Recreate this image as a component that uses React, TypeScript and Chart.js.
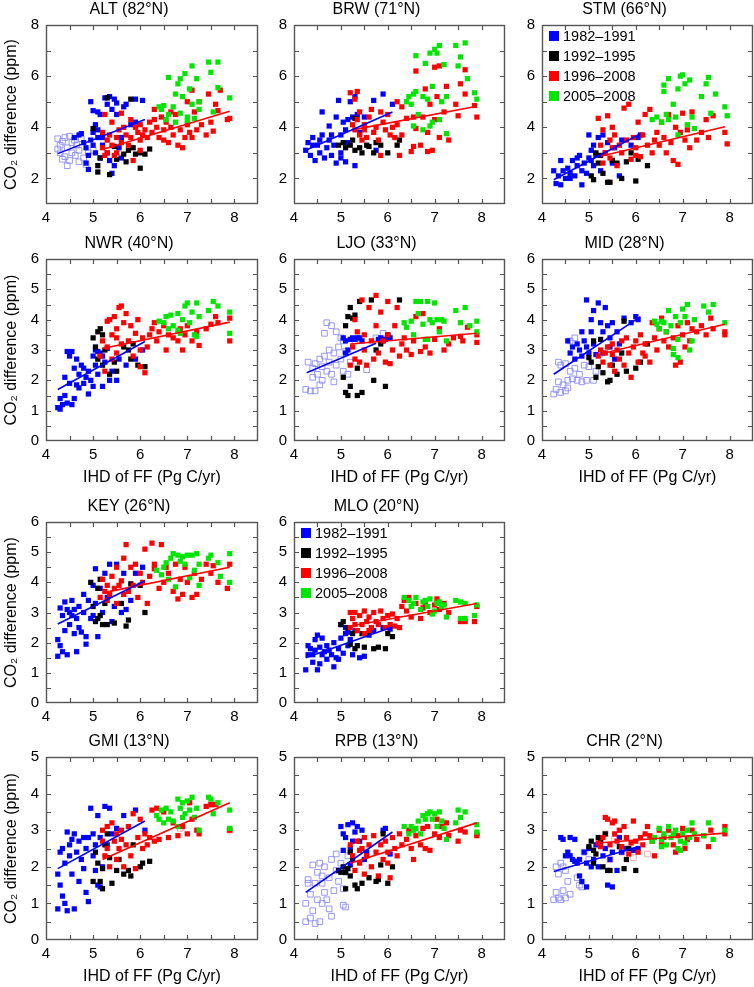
import React, { useEffect, useRef } from 'react';
import { Chart, registerables } from 'chart.js';

Chart.register(...registerables);

const FONT = '"Liberation Sans", Arial, Helvetica, sans-serif';
Chart.defaults.font.family = FONT;
Chart.defaults.color = '#000';

type Pt = [number, number];

// axes
const X_TICKS = [4, 5, 6, 7, 8];
const X_MARKS = [4.5, 5, 5.5, 6, 6.5, 7, 7.5, 8];
const Y_TICKS_HIGH = [2, 4, 6, 8];
const Y_MARKS_HIGH = [2, 3, 4, 5, 6, 7];
const Y_TICKS_MID = [0, 1, 2, 3, 4, 5, 6];
const Y_MARKS_MID = [0.5, 1, 1.5, 2, 2.5, 3, 3.5, 4, 4.5, 5, 5.5];
const Y_TICKS_LOW = [0, 1, 2, 3, 4, 5];
const Y_MARKS_LOW = [0.5, 1, 1.5, 2, 2.5, 3, 3.5, 4, 4.5];

const PERIODS = ['1982–1991', '1992–1995', '1996–2008', '2005–2008'];

const BLUE = '#0000ff';
const BLACK = '#000000';
const RED = '#ff0000';
const GREEN = '#00e600';
const OPEN_BLUE = '#8c8cf2';
const OPEN_RED = '#f2a0a0';
const LEGEND_COLORS = [BLUE, BLACK, RED, GREEN];

// ---- ALT (82°N)
const ALT_OPEN: Pt[] = [[4.25,3.55],[4.3,3.3],[4.35,3.45],[4.4,3.6],[4.45,3.2],[4.5,3.65],[4.55,3.0],[4.6,3.5],[4.65,3.3],[4.3,3.0],[4.4,2.85],[4.5,2.7],[4.55,3.4],[4.7,3.1],[4.75,3.55],[4.8,2.8],[4.85,2.55],[4.45,2.5],[4.35,2.75],[4.62,2.9],[4.9,3.0],[5.0,3.1],[4.25,3.15],[4.7,2.65]];
const ALT_BLUE: Pt[] = [[4.6,3.6],[4.7,3.7],[4.75,3.75],[4.8,3.4],[4.85,3.2],[4.9,2.9],[4.95,3.5],[5.0,3.8],[5.0,3.3],[5.05,4.1],[5.05,3.0],[5.1,3.6],[5.1,4.6],[4.95,5.0],[5.1,3.9],[5.15,2.8],[4.85,2.6],[4.9,2.35],[5.2,3.3],[5.25,5.15],[5.3,4.9],[5.35,5.2],[5.4,4.7],[5.45,5.1],[5.5,4.5],[5.5,4.95],[5.55,3.2],[5.6,3.6],[5.65,4.8],[5.7,4.9],[5.8,4.1],[5.9,4.2],[5.9,5.1],[6.05,5.05],[5.4,2.2],[5.45,2.5],[5.35,2.7],[5.3,3.0],[5.6,2.8],[5.2,3.6],[5.0,4.65],[5.15,4.5]];
const ALT_BLACK: Pt[] = [[5.1,2.5],[5.1,2.25],[5.35,2.15],[5.3,5.15],[5.0,3.95],[5.15,2.8],[5.5,2.75],[5.7,2.65],[5.75,3.1],[5.8,5.1],[5.85,3.2],[5.9,2.95],[6.0,3.0],[6.1,2.95],[6.0,2.4],[5.65,2.95],[5.45,3.25],[6.2,3.15]];
const ALT_RED: Pt[] = [[5.2,3.8],[5.2,3.2],[5.25,2.9],[5.25,4.5],[5.3,3.5],[5.3,3.0],[5.35,3.7],[5.4,3.3],[5.4,4.2],[5.45,2.9],[5.5,3.6],[5.5,3.0],[5.55,3.9],[5.6,3.4],[5.65,4.0],[5.7,3.7],[5.75,3.3],[5.8,4.3],[5.8,3.6],[5.85,2.7],[5.9,4.0],[5.95,3.8],[6.0,3.5],[6.0,4.1],[6.05,3.7],[6.1,3.9],[6.15,3.6],[6.2,4.2],[6.25,3.8],[6.3,4.3],[6.35,4.0],[6.4,3.6],[6.45,4.4],[6.5,3.9],[6.5,3.5],[6.55,4.2],[6.6,3.4],[6.65,4.0],[6.7,3.7],[6.75,4.5],[6.8,3.3],[6.85,3.9],[6.9,3.2],[6.95,3.6],[7.0,4.1],[7.0,5.0],[7.05,3.8],[7.1,5.45],[7.1,3.6],[7.15,4.6],[7.2,3.9],[7.25,5.0],[7.3,4.1],[7.4,3.7],[7.45,5.3],[7.5,4.2],[7.55,3.85],[7.6,4.9],[7.65,4.65],[7.7,5.45],[7.9,4.35],[7.85,4.3],[6.65,4.6],[6.3,4.7],[6.0,3.1],[5.6,4.55]];
const ALT_GREEN: Pt[] = [[6.4,4.8],[6.45,4.7],[6.5,4.85],[6.6,5.95],[6.6,4.5],[6.7,4.8],[6.75,5.3],[6.8,5.7],[6.85,5.9],[6.9,5.2],[6.95,6.1],[7.0,4.4],[7.05,5.5],[7.1,6.4],[7.1,4.9],[7.15,4.35],[7.2,5.9],[7.25,4.7],[7.25,5.0],[7.45,6.55],[7.5,6.15],[7.55,4.6],[7.65,6.55],[7.65,5.55],[7.9,5.15],[6.75,4.2],[6.85,4.55],[7.0,4.25],[6.55,4.3]];
const ALT_BLUE_FIT: Pt[] = [[4.25,2.97],[6.1,4.3]];
const ALT_RED_FIT: Pt[] = [[5.2,3.13],[7.9,4.63]];

// ---- BRW (71°N)
const BRW_BLUE: Pt[] = [[4.25,3.1],[4.3,3.4],[4.35,2.9],[4.4,3.6],[4.45,2.7],[4.5,3.3],[4.55,3.0],[4.6,3.7],[4.6,4.6],[4.65,2.8],[4.7,3.2],[4.75,3.5],[4.75,4.05],[4.8,2.9],[4.85,3.3],[4.9,2.6],[4.9,4.4],[4.95,5.05],[5.0,3.0],[5.0,3.7],[5.05,4.2],[5.1,2.65],[5.1,3.9],[5.15,4.3],[5.15,3.4],[5.2,5.0],[5.25,4.4],[5.3,5.2],[5.3,2.5],[5.35,4.5],[5.4,3.8],[5.5,4.4],[5.7,5.05],[5.75,3.1],[5.9,5.3],[6.1,4.9],[4.4,3.3],[4.55,3.5],[5.0,2.8],[4.8,3.7]];
const BRW_BLACK: Pt[] = [[4.95,3.3],[5.05,3.4],[5.1,3.2],[5.2,3.3],[5.25,3.5],[5.3,3.1],[5.4,3.2],[5.45,3.0],[5.6,3.25],[5.7,3.0],[5.75,3.4],[5.85,3.3],[6.0,3.0],[6.2,3.3],[6.25,3.5],[5.3,4.35],[5.55,3.3]];
const BRW_RED: Pt[] = [[5.2,5.35],[5.3,5.1],[5.35,5.4],[5.25,4.1],[5.3,3.9],[5.35,4.3],[5.4,3.7],[5.4,4.6],[5.45,3.5],[5.5,4.1],[5.5,3.9],[5.55,3.6],[5.6,4.4],[5.65,4.7],[5.7,3.8],[5.75,4.0],[5.8,3.5],[5.85,4.6],[5.85,2.9],[5.9,4.2],[5.95,3.9],[6.0,4.5],[6.05,3.7],[6.1,4.0],[6.15,3.6],[6.2,4.1],[6.25,2.9],[6.3,3.7],[6.3,4.8],[6.4,4.35],[6.5,3.05],[6.55,4.4],[6.6,6.2],[6.6,3.95],[6.7,3.3],[6.75,4.4],[6.8,5.5],[6.85,3.8],[6.85,3.05],[6.9,4.9],[6.95,3.1],[7.0,6.35],[7.0,4.3],[7.05,5.2],[7.1,6.4],[7.1,3.6],[7.2,4.6],[7.25,5.6],[7.3,3.5],[7.45,4.9],[7.5,4.45],[7.55,5.7],[7.65,6.25],[7.65,5.3],[7.85,4.85],[7.9,4.4],[6.2,5.0],[6.55,3.25]];
const BRW_GREEN: Pt[] = [[6.4,5.0],[6.45,5.2],[6.5,4.9],[6.55,5.3],[6.6,5.4],[6.6,6.8],[6.65,4.5],[6.75,5.2],[6.75,3.9],[6.8,6.5],[6.85,5.1],[6.9,6.9],[6.95,5.6],[7.0,7.05],[7.05,6.9],[7.1,4.3],[7.1,7.2],[7.15,5.0],[7.2,6.45],[7.25,5.2],[7.25,3.75],[7.45,7.2],[7.5,6.4],[7.55,6.75],[7.65,7.3],[7.7,5.9],[7.9,5.1],[7.85,5.35],[6.55,4.05],[6.95,4.2],[6.9,4.05]];
const BRW_BLUE_FIT: Pt[] = [[4.25,3.1],[6.1,4.6]];
const BRW_RED_FIT: Pt[] = [[5.25,3.9],[7.9,4.82]];

// ---- STM (66°N)
const STM_BLUE: Pt[] = [[4.25,2.3],[4.3,1.8],[4.35,2.1],[4.4,2.7],[4.4,1.75],[4.45,2.3],[4.5,2.0],[4.55,2.4],[4.6,2.2],[4.65,2.7],[4.7,2.1],[4.75,2.5],[4.8,2.9],[4.85,1.75],[4.85,2.3],[4.9,2.6],[4.95,2.2],[5.0,2.8],[5.0,3.7],[5.05,3.1],[5.1,2.5],[5.1,3.3],[5.15,2.9],[5.2,3.6],[5.25,2.3],[5.3,3.7],[5.35,3.0],[5.4,3.4],[5.5,2.6],[5.55,3.2],[5.65,2.1],[5.7,3.5],[5.9,3.3],[6.05,3.6],[6.1,3.7],[4.6,2.0],[4.75,2.8],[5.05,2.7]];
const STM_BLACK: Pt[] = [[5.05,2.1],[5.1,1.95],[5.2,2.6],[5.25,2.9],[5.3,2.2],[5.4,1.85],[5.45,1.85],[5.5,2.7],[5.6,2.6],[5.7,2.0],[5.8,2.65],[5.9,3.0],[6.0,1.9],[6.05,2.75],[6.25,2.5],[5.15,3.0]];
const STM_RED: Pt[] = [[5.2,4.35],[5.25,3.3],[5.3,2.6],[5.3,3.9],[5.35,3.0],[5.4,4.45],[5.45,3.5],[5.45,2.8],[5.5,3.2],[5.55,3.7],[5.6,2.5],[5.65,3.3],[5.7,3.0],[5.75,4.75],[5.8,3.5],[5.85,4.9],[5.9,2.75],[5.95,3.6],[6.0,3.2],[6.05,4.2],[6.1,2.85],[6.15,3.7],[6.2,4.5],[6.25,3.3],[6.3,4.7],[6.35,3.0],[6.4,3.5],[6.45,3.8],[6.5,3.3],[6.55,4.2],[6.6,3.6],[6.65,3.0],[6.7,4.5],[6.75,3.4],[6.8,2.7],[6.85,4.0],[6.9,2.55],[6.95,3.8],[7.0,4.55],[7.05,3.5],[7.1,3.9],[7.15,3.2],[7.2,4.6],[7.3,3.5],[7.4,3.8],[7.5,4.3],[7.55,3.6],[7.65,4.45],[7.9,3.8],[7.95,3.35],[5.5,4.0],[6.0,2.9]];
const STM_GREEN: Pt[] = [[6.35,4.3],[6.45,4.4],[6.55,4.2],[6.6,5.4],[6.6,5.65],[6.65,4.5],[6.7,5.9],[6.8,4.9],[6.85,4.4],[6.9,5.5],[6.95,6.0],[7.0,6.05],[7.05,5.7],[7.1,4.1],[7.15,5.85],[7.2,4.4],[7.25,3.95],[7.4,5.2],[7.5,5.7],[7.55,5.95],[7.6,4.55],[7.7,5.3],[7.9,4.8],[7.95,4.45],[6.9,3.7],[6.7,4.3]];
const STM_BLUE_FIT: Pt[] = [[4.25,1.95],[6.1,3.75]];
const STM_RED_FIT: Pt[] = [[5.25,2.87],[7.9,4.02]];

// ---- NWR (40°N)
const NWR_BLUE: Pt[] = [[4.25,1.1],[4.3,1.4],[4.3,1.05],[4.35,1.2],[4.4,1.5],[4.4,2.1],[4.45,2.95],[4.45,1.25],[4.5,2.8],[4.5,1.9],[4.55,2.95],[4.6,1.4],[4.6,2.4],[4.65,2.7],[4.65,1.85],[4.7,2.2],[4.7,1.75],[4.75,2.5],[4.8,1.9],[4.8,2.4],[4.85,2.1],[4.9,1.55],[4.9,2.3],[4.95,2.0],[5.0,2.8],[5.0,1.8],[5.05,3.0],[5.05,2.5],[5.1,2.2],[5.15,2.9],[5.2,1.8],[5.25,2.6],[5.3,3.05],[5.35,2.0],[5.4,2.3],[5.5,2.0],[5.55,2.7],[5.7,2.5],[5.9,2.7],[6.05,3.0],[5.1,2.95],[5.2,2.8],[4.55,1.2]];
const NWR_BLACK: Pt[] = [[5.0,3.4],[5.05,3.1],[5.1,3.6],[5.15,3.7],[5.2,3.5],[5.2,2.5],[5.25,3.0],[5.35,2.2],[5.45,2.6],[5.5,2.3],[5.65,3.1],[5.75,3.0],[5.8,2.7],[5.95,2.5],[6.1,2.45],[5.1,2.7],[5.85,3.2]];
const NWR_RED: Pt[] = [[5.15,2.8],[5.2,3.3],[5.25,2.3],[5.3,3.95],[5.3,3.1],[5.35,4.0],[5.4,2.7],[5.4,3.5],[5.45,4.1],[5.5,3.7],[5.5,2.9],[5.55,4.4],[5.6,4.45],[5.6,3.2],[5.65,3.9],[5.7,4.2],[5.75,3.3],[5.8,3.8],[5.85,2.8],[5.9,3.55],[5.95,4.0],[6.0,3.0],[6.05,3.4],[6.1,2.25],[6.15,3.1],[6.2,3.5],[6.25,3.7],[6.3,3.9],[6.35,3.3],[6.4,3.6],[6.5,3.8],[6.55,3.0],[6.6,3.5],[6.7,3.4],[6.8,3.3],[6.85,3.7],[6.9,3.0],[6.95,3.5],[7.0,3.8],[7.1,3.3],[7.2,3.6],[7.25,3.15],[7.4,3.7],[7.5,3.85],[7.6,4.1],[7.65,3.9],[7.9,4.05],[7.9,3.3],[6.0,2.45],[5.5,3.4]];
const NWR_GREEN: Pt[] = [[6.4,3.95],[6.5,3.9],[6.55,4.1],[6.6,3.7],[6.65,4.15],[6.7,3.8],[6.8,4.2],[6.85,3.55],[6.9,4.0],[6.95,4.45],[7.0,4.55],[7.05,3.9],[7.1,4.25],[7.15,3.5],[7.2,4.55],[7.25,4.1],[7.45,4.3],[7.55,4.6],[7.65,4.45],[7.9,4.25],[7.9,3.55],[6.8,3.65],[7.2,3.45]];
const NWR_BLUE_FIT: Pt[] = [[4.25,1.7],[6.1,3.28]];
const NWR_RED_FIT: Pt[] = [[5.2,3.05],[7.9,3.92]];

// ---- LJO (33°N)
const LJO_OPEN: Pt[] = [[4.25,1.7],[4.3,2.6],[4.35,1.65],[4.4,2.4],[4.45,2.55],[4.45,1.65],[4.5,2.2],[4.55,2.7],[4.55,1.85],[4.6,2.45],[4.65,2.8],[4.65,3.55],[4.7,2.3],[4.7,3.9],[4.75,2.6],[4.8,3.8],[4.8,2.2],[4.85,2.9],[4.85,1.95],[4.9,3.6],[4.9,2.5],[4.95,3.1],[5.0,2.7],[5.0,3.4],[5.05,2.3],[5.1,2.95],[5.15,2.2],[5.2,2.6],[5.3,3.3],[5.55,2.35],[5.75,3.4],[5.9,3.55],[4.4,2.1],[4.6,2.0],[4.75,3.0],[5.05,3.3]];
const LJO_BLUE: Pt[] = [[5.05,3.4],[5.1,3.3],[5.1,2.9],[5.15,3.0],[5.2,3.35],[5.25,3.4],[5.3,3.35],[5.35,3.4],[5.4,3.4],[5.45,3.3],[5.8,3.35],[5.85,3.4],[5.9,3.3],[6.0,3.45],[6.05,3.4],[5.95,3.35]];
const LJO_BLACK: Pt[] = [[5.05,2.1],[5.1,1.6],[5.15,1.5],[5.2,1.8],[5.35,1.5],[5.45,1.6],[5.15,4.1],[5.2,4.4],[5.25,4.05],[5.3,4.15],[5.1,3.8],[5.4,4.6],[5.65,4.65],[5.7,2.0],[5.75,3.0],[5.85,3.2],[5.95,1.8],[6.0,3.5],[6.25,4.65],[5.35,2.4]];
const LJO_RED: Pt[] = [[5.2,2.5],[5.25,3.1],[5.3,4.0],[5.3,2.7],[5.35,3.6],[5.4,2.6],[5.45,4.65],[5.5,3.0],[5.55,2.5],[5.6,4.4],[5.65,3.3],[5.7,2.7],[5.75,4.8],[5.75,3.8],[5.8,2.9],[5.85,4.25],[5.9,3.3],[5.95,2.6],[6.0,4.6],[6.05,2.55],[6.1,3.0],[6.15,3.8],[6.2,4.4],[6.25,2.8],[6.3,3.2],[6.35,3.4],[6.4,3.0],[6.5,2.85],[6.55,3.3],[6.6,4.1],[6.7,2.95],[6.75,4.2],[6.8,3.1],[6.9,2.9],[7.0,3.35],[7.1,3.7],[7.2,3.0],[7.3,3.2],[7.4,3.4],[7.55,3.45],[7.6,3.3],[7.7,3.75],[7.9,3.25],[7.9,3.5],[5.5,3.5],[6.0,3.5]];
const LJO_GREEN: Pt[] = [[6.35,3.9],[6.4,3.75],[6.5,3.95],[6.55,3.5],[6.6,4.6],[6.65,4.2],[6.7,4.6],[6.75,3.85],[6.8,3.35],[6.85,4.6],[6.9,4.0],[6.95,3.9],[7.0,4.55],[7.05,4.0],[7.1,3.6],[7.15,4.0],[7.2,3.95],[7.25,3.3],[7.45,4.3],[7.55,3.9],[7.65,4.4],[7.75,3.8],[7.9,3.95],[7.9,3.6],[6.85,3.35]];
const LJO_BLUE_FIT: Pt[] = [[4.27,2.25],[5.75,3.22]];
const LJO_RED_FIT: Pt[] = [[5.2,3.2],[7.9,3.55]];

// ---- MID (28°N)
const MID_OPEN: Pt[] = [[4.25,1.55],[4.3,1.7],[4.35,2.6],[4.4,1.6],[4.4,2.5],[4.45,1.85],[4.5,2.55],[4.5,1.65],[4.55,2.0],[4.6,3.3],[4.6,2.3],[4.65,2.05],[4.7,3.4],[4.7,2.4],[4.75,2.0],[4.8,2.2],[4.85,1.95],[4.9,2.5],[4.95,2.0],[5.0,2.45],[5.1,2.0],[5.15,2.3],[4.35,1.95],[4.55,1.75]];
const MID_BLUE: Pt[] = [[4.55,3.3],[4.6,2.9],[4.65,3.1],[4.7,2.7],[4.75,3.2],[4.8,3.0],[4.85,2.8],[4.9,3.3],[4.95,3.1],[4.95,4.65],[5.0,2.9],[5.05,3.6],[5.05,4.0],[5.1,3.2],[5.15,2.85],[5.2,4.55],[5.25,3.9],[5.3,3.6],[5.35,4.4],[5.4,3.8],[5.45,3.4],[5.5,3.9],[5.55,2.7],[5.6,3.6],[5.65,3.2],[5.75,4.05],[5.9,3.9],[6.0,4.1],[6.05,4.0],[5.3,2.9],[5.45,3.1],[4.85,3.6],[5.1,4.3]];
const MID_BLACK: Pt[] = [[5.0,2.75],[5.05,2.6],[5.1,3.3],[5.15,2.1],[5.2,2.45],[5.25,3.35],[5.3,2.25],[5.4,1.95],[5.45,2.0],[5.5,2.5],[5.6,2.2],[5.75,3.95],[5.8,2.3],[6.0,2.4],[6.25,3.2],[6.1,2.6],[5.7,2.9]];
const MID_RED: Pt[] = [[5.2,2.8],[5.25,3.0],[5.3,2.6],[5.35,2.9],[5.4,3.1],[5.45,2.5],[5.5,3.2],[5.55,2.3],[5.6,3.0],[5.65,2.7],[5.7,3.3],[5.75,2.5],[5.8,3.4],[5.85,2.9],[5.9,2.1],[5.95,3.1],[6.0,3.3],[6.05,2.6],[6.1,3.5],[6.15,2.9],[6.2,3.2],[6.3,2.6],[6.35,3.9],[6.4,3.4],[6.45,3.0],[6.5,3.7],[6.55,4.05],[6.6,3.3],[6.65,3.6],[6.7,3.1],[6.8,3.4],[6.85,2.5],[6.9,3.8],[6.95,2.6],[7.0,3.5],[7.05,3.1],[7.1,3.9],[7.15,3.3],[7.2,3.7],[7.3,3.6],[7.4,3.8],[7.5,3.5],[7.6,4.05],[7.65,3.7],[7.9,3.6],[7.9,3.5],[6.2,2.8],[5.5,2.85]];
const MID_GREEN: Pt[] = [[6.4,3.95],[6.45,3.85],[6.5,3.7],[6.55,3.95],[6.6,3.9],[6.65,3.6],[6.7,4.3],[6.75,3.8],[6.8,2.85],[6.8,3.05],[6.85,4.1],[6.9,2.75],[6.95,3.9],[7.0,4.35],[7.05,4.1],[7.1,4.5],[7.15,3.0],[7.2,3.3],[7.25,4.0],[7.45,4.45],[7.55,4.25],[7.65,4.5],[7.9,3.9],[6.9,3.35]];
const MID_BLUE_FIT: Pt[] = [[4.25,2.2],[6.1,4.1]];
const MID_RED_FIT: Pt[] = [[5.2,2.85],[7.9,3.85]];

// ---- KEY (26°N)
const KEY_BLUE: Pt[] = [[4.25,1.55],[4.25,2.1],[4.3,1.9],[4.3,3.15],[4.35,1.7],[4.35,2.9],[4.4,2.4],[4.4,3.35],[4.45,1.6],[4.5,3.0],[4.5,2.6],[4.55,3.4],[4.6,2.3],[4.6,3.1],[4.65,1.7],[4.65,2.8],[4.7,3.2],[4.75,2.35],[4.8,3.6],[4.8,3.0],[4.85,1.95],[4.85,2.2],[4.9,3.4],[4.95,2.8],[5.0,3.9],[5.0,2.9],[5.05,4.45],[5.05,3.3],[5.1,2.2],[5.15,3.8],[5.2,3.0],[5.25,4.3],[5.3,3.5],[5.35,4.6],[5.4,2.7],[5.45,3.2],[5.5,4.6],[5.6,3.0],[5.65,4.3],[5.7,3.1],[5.8,3.4],[5.9,4.3],[6.05,4.5],[4.45,3.1],[4.7,2.5],[4.55,2.9]];
const KEY_BLACK: Pt[] = [[4.95,4.0],[5.0,3.2],[5.05,2.7],[5.1,3.8],[5.15,4.1],[5.15,2.9],[5.2,2.6],[5.25,3.3],[5.3,2.6],[5.45,2.65],[5.6,3.3],[5.7,2.55],[5.75,2.75],[5.8,3.95],[6.1,3.0],[6.0,3.9],[5.1,2.8]];
const KEY_RED: Pt[] = [[5.15,3.5],[5.2,4.1],[5.25,3.7],[5.3,3.4],[5.3,3.9],[5.35,3.6],[5.4,4.2],[5.45,3.8],[5.5,3.3],[5.5,4.5],[5.55,3.9],[5.6,4.05],[5.65,3.6],[5.65,4.8],[5.7,5.25],[5.75,3.7],[5.8,4.5],[5.85,3.9],[5.9,4.6],[5.95,3.5],[6.0,4.3],[6.05,4.0],[6.1,5.1],[6.15,3.3],[6.2,4.2],[6.25,5.3],[6.3,4.6],[6.4,3.8],[6.45,5.25],[6.5,4.0],[6.55,4.5],[6.6,4.3],[6.7,3.7],[6.75,4.6],[6.8,3.45],[6.85,4.1],[6.9,3.6],[6.95,4.5],[7.0,4.0],[7.1,3.5],[7.15,4.3],[7.2,3.6],[7.3,4.1],[7.4,4.6],[7.5,4.3],[7.55,4.55],[7.65,4.0],[7.85,3.8],[7.9,4.6],[6.3,4.45]];
const KEY_GREEN: Pt[] = [[6.35,4.4],[6.45,4.25],[6.5,4.5],[6.55,4.65],[6.6,4.1],[6.65,4.8],[6.7,4.95],[6.75,3.85],[6.8,4.9],[6.85,4.7],[6.9,4.85],[6.95,4.6],[7.0,4.9],[7.05,4.15],[7.1,4.9],[7.15,4.4],[7.2,4.95],[7.25,4.6],[7.25,3.9],[7.45,4.8],[7.5,4.9],[7.65,4.65],[7.7,4.2],[7.9,4.95],[7.9,4.0]];
const KEY_BLUE_FIT: Pt[] = [[4.25,2.62],[6.1,4.05]];
const KEY_RED_FIT: Pt[] = [[5.2,3.65],[7.9,4.5]];

// ---- MLO (20°N)
const MLO_BLUE: Pt[] = [[4.25,1.1],[4.3,1.6],[4.3,1.9],[4.35,1.8],[4.4,1.35],[4.4,1.6],[4.45,2.1],[4.45,1.75],[4.5,2.25],[4.5,1.1],[4.55,1.85],[4.6,1.6],[4.6,2.15],[4.65,1.7],[4.7,1.9],[4.7,1.45],[4.75,1.75],[4.8,1.6],[4.85,1.2],[4.85,2.0],[4.9,1.5],[4.95,1.8],[5.0,2.6],[5.0,2.15],[5.05,1.65],[5.1,2.3],[5.1,2.5],[5.15,1.9],[5.2,2.1],[5.25,1.6],[5.3,2.4],[5.4,1.5],[5.5,1.55],[5.6,2.25],[5.7,2.4],[5.9,2.5],[6.05,2.45],[4.55,1.3],[4.95,1.45],[5.15,2.35]];
const MLO_BLACK: Pt[] = [[5.0,2.6],[5.05,2.7],[5.15,2.5],[5.2,1.95],[5.3,1.8],[5.35,1.9],[5.45,2.3],[5.5,1.85],[5.7,1.8],[5.8,1.85],[5.95,1.8],[6.0,2.3],[6.1,2.2],[5.55,2.3],[5.25,2.3]];
const MLO_RED: Pt[] = [[5.2,3.0],[5.2,2.5],[5.25,2.8],[5.3,2.6],[5.3,3.0],[5.35,2.4],[5.4,2.9],[5.45,2.6],[5.5,3.05],[5.5,2.3],[5.55,2.7],[5.6,2.85],[5.65,2.5],[5.7,3.0],[5.75,2.7],[5.8,2.6],[5.85,3.05],[5.9,2.8],[5.95,2.5],[6.0,2.9],[6.05,2.6],[6.1,2.95],[6.2,2.8],[6.25,2.5],[6.3,3.2],[6.35,3.4],[6.4,3.05],[6.45,3.5],[6.5,2.85],[6.6,3.3],[6.7,2.8],[6.75,3.15],[6.8,3.3],[6.9,3.0],[7.0,3.25],[7.05,3.45],[7.1,3.1],[7.2,3.3],[7.3,3.0],[7.55,2.7],[7.65,2.7],[7.85,2.7],[7.9,3.2],[5.6,2.4],[6.15,2.55]];
const MLO_GREEN: Pt[] = [[6.35,3.5],[6.45,3.4],[6.5,3.2],[6.55,3.3],[6.6,3.5],[6.7,3.1],[6.75,3.35],[6.8,3.4],[6.85,3.2],[6.9,3.45],[6.95,2.95],[7.0,3.05],[7.05,3.3],[7.1,3.35],[7.15,3.2],[7.2,3.25],[7.25,2.85],[7.45,3.4],[7.55,3.35],[7.55,2.8],[7.65,3.3],[7.9,3.25],[7.85,2.9],[7.65,2.8]];
const MLO_BLUE_FIT: Pt[] = [[4.25,1.5],[6.1,2.52]];
const MLO_RED_FIT: Pt[] = [[5.2,2.55],[7.9,3.3]];

// ---- GMI (13°N)
const GMI_BLUE: Pt[] = [[4.25,0.85],[4.25,1.8],[4.3,1.5],[4.3,2.4],[4.35,1.2],[4.35,2.5],[4.4,1.0],[4.4,2.1],[4.45,2.95],[4.45,0.8],[4.5,2.6],[4.5,2.3],[4.55,1.8],[4.6,2.9],[4.6,0.85],[4.65,2.4],[4.7,1.6],[4.7,2.7],[4.75,2.2],[4.8,2.8],[4.85,1.3],[4.85,2.5],[4.9,1.05],[4.9,2.8],[4.95,3.6],[5.0,2.3],[5.0,2.9],[5.05,1.9],[5.05,2.6],[5.1,1.5],[5.1,3.4],[5.15,2.8],[5.2,2.0],[5.25,3.65],[5.3,2.6],[5.35,3.6],[5.4,2.9],[5.5,3.05],[5.65,3.4],[5.9,3.55],[6.1,3.0],[4.55,2.75],[4.8,1.95],[5.15,1.45]];
const GMI_BLACK: Pt[] = [[5.0,1.6],[5.05,2.4],[5.1,2.1],[5.15,1.6],[5.2,1.4],[5.25,2.6],[5.3,2.9],[5.4,1.55],[5.5,1.9],[5.55,2.2],[5.65,1.8],[5.75,1.9],[5.8,1.75],[5.85,2.6],[6.0,2.0],[6.05,2.1],[6.2,2.15],[5.35,2.25],[5.2,1.95]];
const GMI_RED: Pt[] = [[5.2,2.7],[5.2,3.0],[5.25,2.3],[5.3,3.1],[5.3,2.5],[5.35,2.0],[5.4,3.2],[5.45,2.7],[5.5,2.2],[5.5,2.9],[5.55,2.5],[5.6,2.75],[5.65,2.0],[5.7,2.6],[5.75,3.1],[5.8,2.3],[5.85,3.45],[5.9,1.95],[5.95,2.8],[6.0,3.3],[6.05,2.5],[6.1,2.9],[6.15,2.6],[6.2,2.8],[6.25,3.55],[6.3,2.7],[6.35,3.6],[6.5,3.5],[6.6,2.8],[6.7,3.2],[6.8,2.85],[6.9,3.1],[7.0,2.9],[7.05,3.75],[7.1,3.3],[7.2,3.0],[7.25,2.9],[7.4,3.65],[7.5,3.7],[7.6,3.7],[7.9,3.0],[6.4,2.75],[5.6,3.0]];
const GMI_GREEN: Pt[] = [[6.35,3.4],[6.4,3.3],[6.45,3.55],[6.5,3.2],[6.55,3.6],[6.6,3.3],[6.65,3.5],[6.7,3.25],[6.8,3.85],[6.8,3.1],[6.85,3.6],[6.9,3.75],[6.95,3.45],[7.0,3.8],[7.05,3.55],[7.1,3.9],[7.15,3.35],[7.2,3.6],[7.25,3.0],[7.45,3.9],[7.5,3.85],[7.55,3.45],[7.65,3.75],[7.9,3.55],[7.9,3.05],[6.9,3.35]];
const GMI_OPEN_RED: Pt[] = [[6.85,3.05],[7.5,3.7],[7.6,3.72],[7.9,3.0]];
const GMI_BLUE_FIT: Pt[] = [[4.25,1.95],[6.1,3.25]];
const GMI_RED_FIT: Pt[] = [[5.2,2.2],[7.9,3.75]];

// ---- RPB (13°N)
const RPB_OPEN: Pt[] = [[4.25,0.5],[4.25,1.0],[4.3,1.65],[4.35,1.25],[4.35,0.6],[4.4,2.05],[4.4,0.8],[4.45,1.55],[4.45,0.45],[4.5,1.85],[4.5,1.1],[4.55,2.1],[4.55,0.5],[4.6,1.0],[4.6,1.75],[4.65,2.0],[4.65,1.3],[4.7,1.1],[4.75,1.7],[4.75,0.85],[4.8,2.2],[4.8,0.65],[4.85,1.35],[4.9,2.35],[4.9,1.9],[4.95,1.6],[5.0,2.1],[5.05,0.95],[5.1,0.9],[5.05,1.4],[5.15,2.3],[5.1,1.85],[4.3,1.55],[4.6,1.55]];
const RPB_BLUE: Pt[] = [[5.0,3.1],[5.05,2.9],[5.1,2.8],[5.15,3.15],[5.2,2.5],[5.25,3.2],[5.3,2.95],[5.35,3.1],[5.4,2.7],[5.45,3.0],[5.05,2.45],[5.2,2.05],[5.55,2.4],[5.5,2.2],[5.9,3.0],[5.95,3.05],[6.05,2.35],[5.25,2.7]];
const RPB_BLACK: Pt[] = [[4.95,1.9],[5.0,1.85],[5.05,2.0],[5.1,1.4],[5.15,1.95],[5.2,1.75],[5.25,2.2],[5.3,1.5],[5.35,1.4],[5.45,1.55],[5.6,1.7],[5.75,1.6],[5.8,1.65],[5.85,2.05],[6.0,1.55],[6.1,2.0],[5.9,2.9],[5.1,1.85],[5.2,2.4]];
const RPB_RED: Pt[] = [[5.2,2.6],[5.25,2.3],[5.3,1.9],[5.35,2.7],[5.4,2.1],[5.45,2.5],[5.5,1.8],[5.5,2.8],[5.55,2.3],[5.6,2.6],[5.65,2.0],[5.7,2.85],[5.75,2.4],[5.8,1.75],[5.85,2.6],[5.9,2.2],[5.95,2.7],[6.0,2.4],[6.05,1.7],[6.1,2.8],[6.15,2.5],[6.2,2.3],[6.25,2.9],[6.3,2.6],[6.4,2.75],[6.45,3.0],[6.5,2.5],[6.55,2.2],[6.6,2.85],[6.7,2.6],[6.75,3.05],[6.8,2.5],[6.85,3.1],[6.9,2.45],[7.0,2.9],[7.05,3.3],[7.1,2.8],[7.15,3.1],[7.25,3.2],[7.3,2.85],[7.5,2.7],[7.55,3.0],[7.65,2.95],[7.9,2.85],[7.9,2.9],[5.4,2.45],[6.0,2.1]];
const RPB_GREEN: Pt[] = [[6.35,3.1],[6.45,2.9],[6.5,3.1],[6.6,3.05],[6.65,3.25],[6.7,2.9],[6.75,3.4],[6.8,3.3],[6.85,3.45],[6.9,3.5],[6.95,3.3],[7.0,3.45],[7.05,3.1],[7.1,3.5],[7.15,3.25],[7.2,3.05],[7.25,2.75],[7.45,3.2],[7.5,3.55],[7.55,3.35],[7.65,3.5],[7.9,3.15],[7.9,2.95],[6.55,3.0]];
const RPB_BLUE_FIT: Pt[] = [[4.25,1.3],[6.1,2.95]];
const RPB_RED_FIT: Pt[] = [[5.2,2.1],[7.9,3.2]];

// ---- CHR (2°N)
const CHR_OPEN: Pt[] = [[4.25,1.1],[4.3,1.3],[4.3,2.0],[4.35,1.15],[4.35,1.8],[4.4,2.1],[4.4,1.1],[4.45,1.35],[4.5,1.9],[4.5,1.15],[4.55,1.6],[4.6,1.25],[4.75,1.7],[4.8,1.5],[4.85,1.45],[4.9,2.4],[5.0,2.2],[4.45,2.0]];
const CHR_OPEN_RED: Pt[] = [[5.35,2.9],[5.55,2.75],[5.7,2.4],[5.95,2.25],[6.25,2.35],[5.45,2.2]];
const CHR_BLUE: Pt[] = [[4.4,2.8],[4.45,2.75],[4.5,2.3],[4.55,2.4],[4.6,2.8],[4.65,2.2],[4.7,2.75],[4.75,2.1],[4.8,1.75],[4.8,2.2],[4.85,1.6],[4.9,2.4],[4.95,1.45],[4.95,2.1],[5.0,2.5],[5.05,2.0],[5.1,2.2],[5.15,2.6],[5.2,2.0],[5.25,2.7],[5.3,2.3],[5.35,2.5],[5.4,1.5],[5.45,2.2],[5.5,1.45],[5.5,2.4],[5.6,1.9],[5.7,2.4],[5.8,2.5],[5.95,2.45],[6.05,2.5],[4.6,2.3],[4.7,2.15],[5.65,2.8]];
const CHR_BLACK: Pt[] = [[5.0,2.55],[5.05,2.7],[5.1,2.1],[5.15,2.35],[5.2,2.8],[5.25,2.75],[5.3,2.0],[5.35,2.9],[5.4,1.9],[5.45,1.9],[5.75,1.95],[5.8,2.2],[5.85,2.5],[6.0,1.9],[5.1,2.45],[5.65,2.55]];
const CHR_RED: Pt[] = [[5.2,2.65],[5.25,2.55],[5.3,2.8],[5.35,3.35],[5.4,3.3],[5.45,2.6],[5.5,3.2],[5.55,2.9],[5.6,2.7],[5.65,3.0],[5.7,2.55],[5.75,3.1],[5.8,2.8],[5.85,2.35],[5.9,2.65],[5.95,3.25],[6.0,2.7],[6.05,2.4],[6.1,2.8],[6.15,2.6],[6.2,2.9],[6.3,2.85],[6.35,2.7],[6.4,2.3],[6.5,3.0],[6.55,2.6],[6.6,2.8],[6.7,3.0],[6.8,2.6],[6.85,2.4],[6.9,2.85],[7.0,3.05],[7.05,2.5],[7.1,2.75],[7.2,3.0],[7.3,2.75],[7.45,2.85],[7.55,2.55],[7.6,3.0],[7.9,2.9],[7.9,3.1],[6.25,3.1],[5.55,3.25]];
const CHR_GREEN: Pt[] = [[6.35,2.7],[6.4,2.8],[6.5,3.05],[6.55,2.75],[6.6,2.9],[6.65,2.6],[6.7,3.1],[6.75,2.8],[6.8,2.9],[6.85,3.0],[6.9,2.5],[6.95,2.7],[7.0,2.9],[7.05,2.65],[7.1,3.0],[7.15,2.8],[7.2,3.2],[7.25,2.9],[7.45,2.85],[7.55,3.2],[7.65,2.75],[7.9,3.0],[6.95,2.45],[6.55,2.55]];
const CHR_BLUE_FIT: Pt[] = [[4.25,1.87],[6.05,2.55]];
const CHR_RED_FIT: Pt[] = [[5.2,2.65],[7.9,2.92]];

interface Panel {
  title: string;
  left: number;
  top: number;
  w: number;
  h: number;
  yMin: number;
  yMax: number;
  yTicks: number[];
  yMarks: number[];
  xTitle: boolean;
  yTitle: boolean;
  legend: boolean;
  open: Pt[];
  openRed: Pt[];
  blue: Pt[];
  black: Pt[];
  red: Pt[];
  green: Pt[];
  blueFit: Pt[];
  redFit: Pt[];
}

const COL_LEFT = [46, 294, 542];
const COL_W = [212, 211, 211];
const ROW_TOP = [25, 259, 522, 757];
const ROW_H = [179, 182, 181, 183];

const AXIS_W = 46;
const TOP_H = 25;

function panel(title: string, row: number, col: number, d: Partial<Panel>): Panel {
  const y = row === 0
    ? { yMin: 1, yMax: 8, yTicks: Y_TICKS_HIGH, yMarks: Y_MARKS_HIGH }
    : row === 3
      ? { yMin: 0, yMax: 5, yTicks: Y_TICKS_LOW, yMarks: Y_MARKS_LOW }
      : { yMin: 0, yMax: 6, yTicks: Y_TICKS_MID, yMarks: Y_MARKS_MID };
  return {
    title,
    left: COL_LEFT[col], top: ROW_TOP[row], w: COL_W[col], h: ROW_H[row],
    ...y,
    xTitle: row === 1 || row === 3,
    yTitle: col === 0,
    legend: false,
    open: [], openRed: [], blue: [], black: [], red: [], green: [], blueFit: [], redFit: [],
    ...d,
  } as Panel;
}

const PANELS: Panel[] = [
  panel('ALT (82°N)', 0, 0, { open: ALT_OPEN, blue: ALT_BLUE, black: ALT_BLACK, red: ALT_RED, green: ALT_GREEN, blueFit: ALT_BLUE_FIT, redFit: ALT_RED_FIT }),
  panel('BRW (71°N)', 0, 1, { blue: BRW_BLUE, black: BRW_BLACK, red: BRW_RED, green: BRW_GREEN, blueFit: BRW_BLUE_FIT, redFit: BRW_RED_FIT }),
  panel('STM (66°N)', 0, 2, { legend: true, blue: STM_BLUE, black: STM_BLACK, red: STM_RED, green: STM_GREEN, blueFit: STM_BLUE_FIT, redFit: STM_RED_FIT }),
  panel('NWR (40°N)', 1, 0, { blue: NWR_BLUE, black: NWR_BLACK, red: NWR_RED, green: NWR_GREEN, blueFit: NWR_BLUE_FIT, redFit: NWR_RED_FIT }),
  panel('LJO (33°N)', 1, 1, { open: LJO_OPEN, blue: LJO_BLUE, black: LJO_BLACK, red: LJO_RED, green: LJO_GREEN, blueFit: LJO_BLUE_FIT, redFit: LJO_RED_FIT }),
  panel('MID (28°N)', 1, 2, { open: MID_OPEN, blue: MID_BLUE, black: MID_BLACK, red: MID_RED, green: MID_GREEN, blueFit: MID_BLUE_FIT, redFit: MID_RED_FIT }),
  panel('KEY (26°N)', 2, 0, { blue: KEY_BLUE, black: KEY_BLACK, red: KEY_RED, green: KEY_GREEN, blueFit: KEY_BLUE_FIT, redFit: KEY_RED_FIT }),
  panel('MLO (20°N)', 2, 1, { legend: true, blue: MLO_BLUE, black: MLO_BLACK, red: MLO_RED, green: MLO_GREEN, blueFit: MLO_BLUE_FIT, redFit: MLO_RED_FIT }),
  panel('GMI (13°N)', 3, 0, { openRed: GMI_OPEN_RED, blue: GMI_BLUE, black: GMI_BLACK, red: GMI_RED, green: GMI_GREEN, blueFit: GMI_BLUE_FIT, redFit: GMI_RED_FIT }),
  panel('RPB (13°N)', 3, 1, { open: RPB_OPEN, blue: RPB_BLUE, black: RPB_BLACK, red: RPB_RED, green: RPB_GREEN, blueFit: RPB_BLUE_FIT, redFit: RPB_RED_FIT }),
  panel('CHR (2°N)', 3, 2, { open: CHR_OPEN, openRed: CHR_OPEN_RED, blue: CHR_BLUE, black: CHR_BLACK, red: CHR_RED, green: CHR_GREEN, blueFit: CHR_BLUE_FIT, redFit: CHR_RED_FIT }),
];

const toXY = (a: Pt[]) => a.map(([x, y]) => ({ x, y }));

function filled(data: Pt[], color: string) {
  return {
    data: toXY(data),
    pointStyle: 'rect',
    pointRadius: 3.7,
    pointBackgroundColor: color,
    pointBorderWidth: 0,
    showLine: false,
  };
}

function hollow(data: Pt[], color: string) {
  return {
    data: toXY(data),
    pointStyle: 'rect',
    pointRadius: 4,
    pointBackgroundColor: 'rgba(0,0,0,0)',
    pointBorderColor: color,
    pointBorderWidth: 0.9,
    showLine: false,
  };
}

function fitLine(data: Pt[], color: string) {
  return {
    data: toXY(data),
    showLine: true,
    borderColor: color,
    borderWidth: 1.6,
    pointRadius: 0,
    fill: false,
  };
}

function PanelChart({ p }: { p: Panel }) {
  const canvasRef = useRef<HTMLCanvasElement>(null);
  const xH = p.xTitle ? 47 : 24;
  const width = AXIS_W * 2 + p.w;
  const height = TOP_H + p.h + xH;

  useEffect(() => {
    const canvas = canvasRef.current;
    if (!canvas) return;

    // frame with inward tick marks on all four sides, plus the period legend
    const framePlugin = {
      id: 'frame',
      afterDatasetsDraw(chart: Chart) {
        const { ctx, chartArea: a, scales } = chart;
        const xs = scales.x;
        const ys = scales.y;
        ctx.save();
        ctx.strokeStyle = '#555';
        ctx.lineWidth = 1.4;
        ctx.strokeRect(a.left + 0.5, a.top + 0.5, a.width - 1, a.height - 1);
        ctx.lineWidth = 1.2;
        ctx.beginPath();
        for (const v of X_MARKS) {
          const px = Math.round(xs.getPixelForValue(v)) + 0.5;
          ctx.moveTo(px, a.bottom);
          ctx.lineTo(px, a.bottom - 5);
          ctx.moveTo(px, a.top);
          ctx.lineTo(px, a.top + 5);
        }
        for (const v of p.yMarks) {
          const py = Math.round(ys.getPixelForValue(v)) + 0.5;
          ctx.moveTo(a.left, py);
          ctx.lineTo(a.left + 5, py);
          ctx.moveTo(a.right, py);
          ctx.lineTo(a.right - 5, py);
        }
        ctx.stroke();

        if (p.legend) {
          ctx.font = `14.5px ${FONT}`;
          ctx.textBaseline = 'middle';
          ctx.textAlign = 'left';
          LEGEND_COLORS.forEach((c, i) => {
            const y = a.top + 11 + i * 20;
            ctx.fillStyle = c;
            ctx.fillRect(a.left + 7, y - 5, 10, 10);
            ctx.fillStyle = '#000';
            ctx.fillText(PERIODS[i], a.left + 21, y + 0.5);
          });
        }
        ctx.restore();
      },
    };

    // first dataset is drawn on top
    const datasets: any[] = [
      fitLine(p.blueFit, BLUE),
      fitLine(p.redFit, RED),
      filled(p.green, GREEN),
      filled(p.red, RED),
      filled(p.black, BLACK),
      filled(p.blue, BLUE),
      hollow(p.openRed, OPEN_RED),
      hollow(p.open, OPEN_BLUE),
    ];

    const chart = new Chart(canvas, {
      type: 'scatter',
      data: { datasets },
      options: {
        animation: false,
        responsive: true,
        maintainAspectRatio: false,
        events: [],
        layout: { padding: { left: 0, right: AXIS_W, top: 0, bottom: 0 } },
        plugins: {
          legend: { display: false },
          tooltip: { enabled: false },
          title: {
            display: true,
            text: p.title,
            color: '#000',
            font: { size: 16, weight: 'normal', lineHeight: 1.25 },
            padding: { top: 0, bottom: 5 },
          },
        },
        scales: {
          x: {
            type: 'linear',
            min: 4,
            max: 8.5,
            grid: { display: false, drawTicks: false },
            border: { display: false },
            ticks: { font: { size: 15 }, color: '#000', padding: 4.5, maxRotation: 0, autoSkip: false },
            afterBuildTicks: (s: any) => { s.ticks = X_TICKS.map(value => ({ value })); },
            afterFit: (s: any) => { s.height = xH; },
            title: {
              display: p.xTitle,
              text: 'IHD of FF (Pg C/yr)',
              color: '#000',
              font: { size: 16, lineHeight: 1.25 },
              padding: { top: 0, bottom: 0 },
            },
          },
          y: {
            type: 'linear',
            min: p.yMin,
            max: p.yMax,
            grid: { display: false, drawTicks: false },
            border: { display: false },
            ticks: { font: { size: 15 }, color: '#000', padding: 7, autoSkip: false },
            afterBuildTicks: (s: any) => { s.ticks = p.yTicks.map(value => ({ value })); },
            afterFit: (s: any) => { s.width = AXIS_W; },
            title: {
              display: p.yTitle,
              text: 'CO₂ difference (ppm)',
              color: '#000',
              font: { size: 16, lineHeight: 1.25 },
              padding: { top: 2, bottom: 0 },
            },
          },
        },
      },
      plugins: [framePlugin],
    } as any);

    return () => {
      chart.destroy();
    };
  }, [p, xH]);

  return (
    <div style={{ position: 'absolute', left: p.left - AXIS_W, top: p.top - TOP_H, width, height }}>
      <canvas ref={canvasRef} />
    </div>
  );
}

export default function App() {
  return (
    <div style={{ position: 'absolute', left: 0, top: 0, width: 754, height: 987, overflow: 'hidden', background: '#fff' }}>
      {PANELS.map(p => <PanelChart key={p.title} p={p} />)}
    </div>
  );
}
